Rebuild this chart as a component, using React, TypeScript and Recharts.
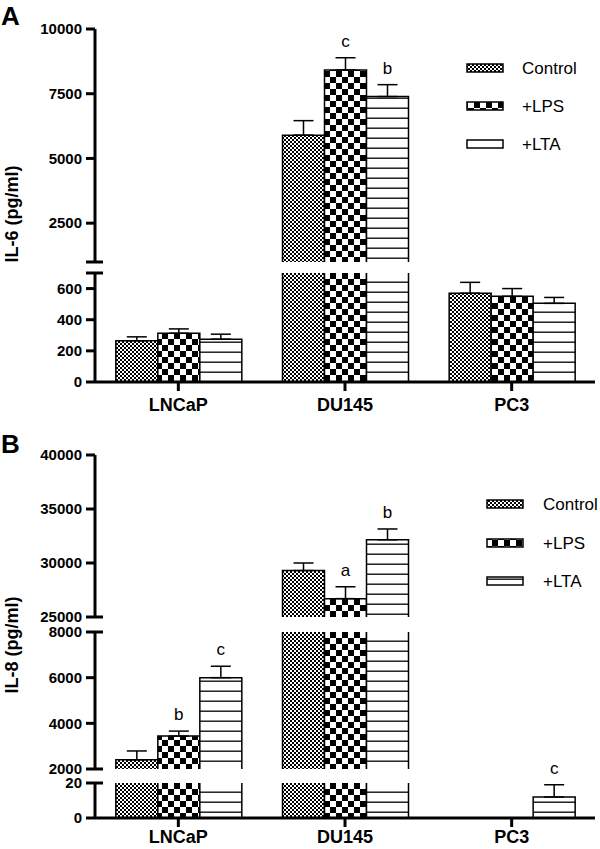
import React from 'react';
import { BarChart, Bar, XAxis, YAxis, ErrorBar, LabelList } from 'recharts';

const cellLines = ['LNCaP', 'DU145', 'PC3'];
const seriesNames = ['Control', '+LPS', '+LTA'];

// IL-6 (pg/ml), panel A
const il6Control = [265, 5900, 570];
const il6ControlSem = [25, 560, 70];
const il6Lps = [313, 8420, 550];
const il6LpsSem = [28, 470, 50];
const il6Lta = [275, 7390, 505];
const il6LtaSem = [32, 460, 38];
const il6LpsLetters = ['', 'c', ''];
const il6LtaLetters = ['', 'b', ''];

// IL-8 (pg/ml), panel B
const il8Control = [2400, 29300, 0];
const il8ControlSem = [390, 700, 0];
const il8Lps = [3440, 26700, 0];
const il8LpsSem = [220, 1100, 0];
const il8Lta = [6000, 32150, 12];
const il8LtaSem = [500, 1000, 7];
const il8LpsLetters = ['b', 'a', ''];
const il8LtaLetters = ['c', 'b', 'c'];

const noLetters = ['', '', ''];

const FONT = '"Liberation Sans", Arial, Helvetica, sans-serif';
const TICK_SIZE = 9;
const TICK_MARGIN = 4;
const fills = ['url(#pat-ctl)', 'url(#pat-lps)', 'url(#pat-lta)'];

type Series = { key: string; values: number[]; sem: number[]; letters: string[] };
type Segment = {
  top: number;
  bottom: number;
  domain: [number, number];
  labels: number[];
  breaks: number[];
  showX?: boolean;
  xTickMargin?: number;
};

const il6Series: Series[] = [
  { key: 'ctl', values: il6Control, sem: il6ControlSem, letters: noLetters },
  { key: 'lps', values: il6Lps, sem: il6LpsSem, letters: il6LpsLetters },
  { key: 'lta', values: il6Lta, sem: il6LtaSem, letters: il6LtaLetters },
];
const il8Series: Series[] = [
  { key: 'ctl', values: il8Control, sem: il8ControlSem, letters: noLetters },
  { key: 'lps', values: il8Lps, sem: il8LpsSem, letters: il8LpsLetters },
  { key: 'lta', values: il8Lta, sem: il8LtaSem, letters: il8LtaLetters },
];

const il6Segments: Segment[] = [
  { top: 29, bottom: 262, domain: [1000, 10000], labels: [2500, 5000, 7500, 10000], breaks: [1000] },
  { top: 273, bottom: 382, domain: [0, 700], labels: [0, 200, 400, 600], breaks: [700], showX: true, xTickMargin: 7 },
];
const il8Segments: Segment[] = [
  { top: 455, bottom: 617, domain: [25000, 40000], labels: [25000, 30000, 35000, 40000], breaks: [25000] },
  { top: 632, bottom: 769, domain: [2000, 8000], labels: [2000, 4000, 6000, 8000], breaks: [2000, 8000] },
  { top: 783, bottom: 818, domain: [0, 20], labels: [0, 20], breaks: [20], showX: true, xTickMargin: 3 },
];

function buildRows(series: Series[], seg: Segment) {
  const [lo, hi] = seg.domain;
  return cellLines.map((cell, i) => {
    const row: any = { cell };
    series.forEach((s) => {
      const v = s.values[i];
      const inside = v >= lo && v <= hi;
      row[s.key] = v < lo ? null : Math.min(v, hi);
      row[s.key + 'Cut'] = v > hi;
      row[s.key + 'Err'] = inside && s.sem[i] > 0 ? [0, s.sem[i]] : null;
      row[s.key + 'Sem'] = s.sem[i];
      // row index travels with the letter, label indices skip empty bars
      row[s.key + 'Tag'] = inside && s.letters[i] ? `${i}:${s.letters[i]}` : null;
    });
    return row;
  });
}

const makeShape = (key: string) => (p: any) => {
  const { x, y, width, height, payload, fill } = p;
  if (!(height > 0)) return <g />;
  const cut = payload && payload[key + 'Cut'];
  const d = cut
    ? `M${x},${y + height}V${y}M${x + width},${y}V${y + height}`
    : `M${x},${y + height}V${y}H${x + width}V${y + height}`;
  return (
    <g>
      <rect x={x} y={y} width={width} height={height} fill={fill} />
      <path d={d} fill="none" stroke="#000" strokeWidth={1.5} />
    </g>
  );
};

const makeLetter = (key: string, rows: any[], lo: number) => (p: any) => {
  const { viewBox, value } = p;
  if (!value || !viewBox || typeof value !== 'string') return null;
  const [idx, letter] = value.split(':');
  const row = rows[Number(idx)];
  if (!row) return null;
  const top = Math.min(viewBox.y, viewBox.y + viewBox.height);
  const h = Math.abs(viewBox.height);
  const perUnit = h / (row[key] - lo);
  const capY = top - row[key + 'Sem'] * perUnit;
  return (
    <text x={viewBox.x + viewBox.width / 2} y={capY - 11} textAnchor="middle" fontSize={17} fontFamily={FONT} fill="#000">
      {letter}
    </text>
  );
};

const makeTick = (seg: Segment) => (p: any) => {
  const { x, y, payload } = p;
  const v = payload.value;
  const axisX = x + TICK_SIZE + TICK_MARGIN;
  return (
    <g>
      {seg.breaks.includes(v) && <line x1={axisX} x2={axisX + 8} y1={y} y2={y} stroke="#000" strokeWidth={3} />}
      {seg.labels.includes(v) && (
        <text x={x} y={y} dy="0.355em" textAnchor="end" fontSize={15} fontWeight="bold" fontFamily={FONT} fill="#000">
          {v}
        </text>
      )}
    </g>
  );
};

function SegmentChart({ series, seg }: { series: Series[]; seg: Segment }) {
  const rows = buildRows(series, seg);
  const mTop = 30;
  const mBottom = seg.showX ? 2 : 12;
  const xH = seg.showX ? 36 : 0;
  const height = seg.bottom - seg.top + mTop + mBottom + xH;
  const ticks = Array.from(new Set([...seg.labels, ...seg.breaks])).sort((a, b) => a - b);
  return (
    <div style={{ position: 'absolute', left: 0, top: seg.top - mTop }}>
      <BarChart
        width={600}
        height={height}
        data={rows}
        margin={{ top: mTop, right: 5, bottom: mBottom, left: 15 }}
        barCategoryGap="12.5%"
        barGap={0}
      >
        <XAxis
          dataKey="cell"
          hide={!seg.showX}
          height={xH || 30}
          axisLine={{ stroke: '#000', strokeWidth: 3 }}
          tickLine={{ stroke: '#000', strokeWidth: 3 }}
          tickSize={TICK_SIZE}
          tickMargin={seg.xTickMargin ?? 7}
          tick={{ fill: '#000', fontSize: 18, fontWeight: 'bold', fontFamily: FONT }}
        />
        <YAxis
          type="number"
          width={80}
          domain={seg.domain}
          ticks={ticks}
          interval={0}
          axisLine={{ stroke: '#000', strokeWidth: 3 }}
          tickLine={{ stroke: '#000', strokeWidth: 3 }}
          tickSize={TICK_SIZE}
          tickMargin={TICK_MARGIN}
          tick={makeTick(seg)}
        />
        {series.map((s, i) => (
          <Bar key={s.key} dataKey={s.key} fill={fills[i]} shape={makeShape(s.key)} isAnimationActive={false}>
            <ErrorBar dataKey={s.key + 'Err'} width={10} stroke="#000" strokeWidth={1.5} direction="y" />
            <LabelList dataKey={s.key + 'Tag'} content={makeLetter(s.key, rows, seg.domain[0])} />
          </Bar>
        ))}
      </BarChart>
    </div>
  );
}

function Patterns() {
  return (
    <svg width={0} height={0} style={{ position: 'absolute' }}>
      <defs>
        <pattern id="pat-ctl" patternUnits="userSpaceOnUse" width={4} height={4}>
          <rect width={4} height={4} fill="#fff" />
          <rect width={2} height={2} fill="#000" />
          <rect x={2} y={2} width={2} height={2} fill="#000" />
        </pattern>
        <pattern id="pat-lps" patternUnits="userSpaceOnUse" width={12} height={12}>
          <rect width={12} height={12} fill="#fff" />
          <rect width={6} height={6} fill="#000" />
          <rect x={6} y={6} width={6} height={6} fill="#000" />
        </pattern>
        <pattern id="pat-lta" patternUnits="userSpaceOnUse" width={10} height={10}>
          <rect width={10} height={10} fill="#fff" />
          <rect y={8.5} width={10} height={1.4} fill="#111" />
        </pattern>
      </defs>
    </svg>
  );
}

function LegendBlock({ swatchX, textX, rows }: { swatchX: number; textX: number; rows: number[] }) {
  return (
    <g>
      {seriesNames.map((name, i) => (
        <g key={name}>
          <rect x={swatchX} y={rows[i] - 4} width={36} height={8} fill={fills[i]} stroke="#000" strokeWidth={1.5} />
          <text x={textX} y={rows[i]} dy="0.36em" fontSize={17} fontFamily={FONT} fill="#000">
            {name}
          </text>
        </g>
      ))}
    </g>
  );
}

export default function App() {
  return (
    <div style={{ position: 'absolute', left: 0, top: 0, width: 600, height: 849, background: '#fff', overflow: 'hidden' }}>
      <Patterns />
      {il6Segments.map((seg, i) => (
        <SegmentChart key={'a' + i} series={il6Series} seg={seg} />
      ))}
      {il8Segments.map((seg, i) => (
        <SegmentChart key={'b' + i} series={il8Series} seg={seg} />
      ))}
      <svg width={600} height={849} style={{ position: 'absolute', left: 0, top: 0, pointerEvents: 'none' }}>
        <text x={1} y={25} fontSize={26} fontWeight="bold" fontFamily={FONT} fill="#000">A</text>
        <text x={1} y={453} fontSize={26} fontWeight="bold" fontFamily={FONT} fill="#000">B</text>
        <text transform="translate(18,214) rotate(-90)" textAnchor="middle" fontSize={18} fontWeight="bold" fontFamily={FONT} fill="#000">
          IL-6 (pg/ml)
        </text>
        <text transform="translate(18,645) rotate(-90)" textAnchor="middle" fontSize={18} fontWeight="bold" fontFamily={FONT} fill="#000">
          IL-8 (pg/ml)
        </text>
        <LegendBlock swatchX={467} textX={522} rows={[68, 106, 144]} />
        <LegendBlock swatchX={487} textX={543} rows={[504, 543, 581]} />
      </svg>
    </div>
  );
}
